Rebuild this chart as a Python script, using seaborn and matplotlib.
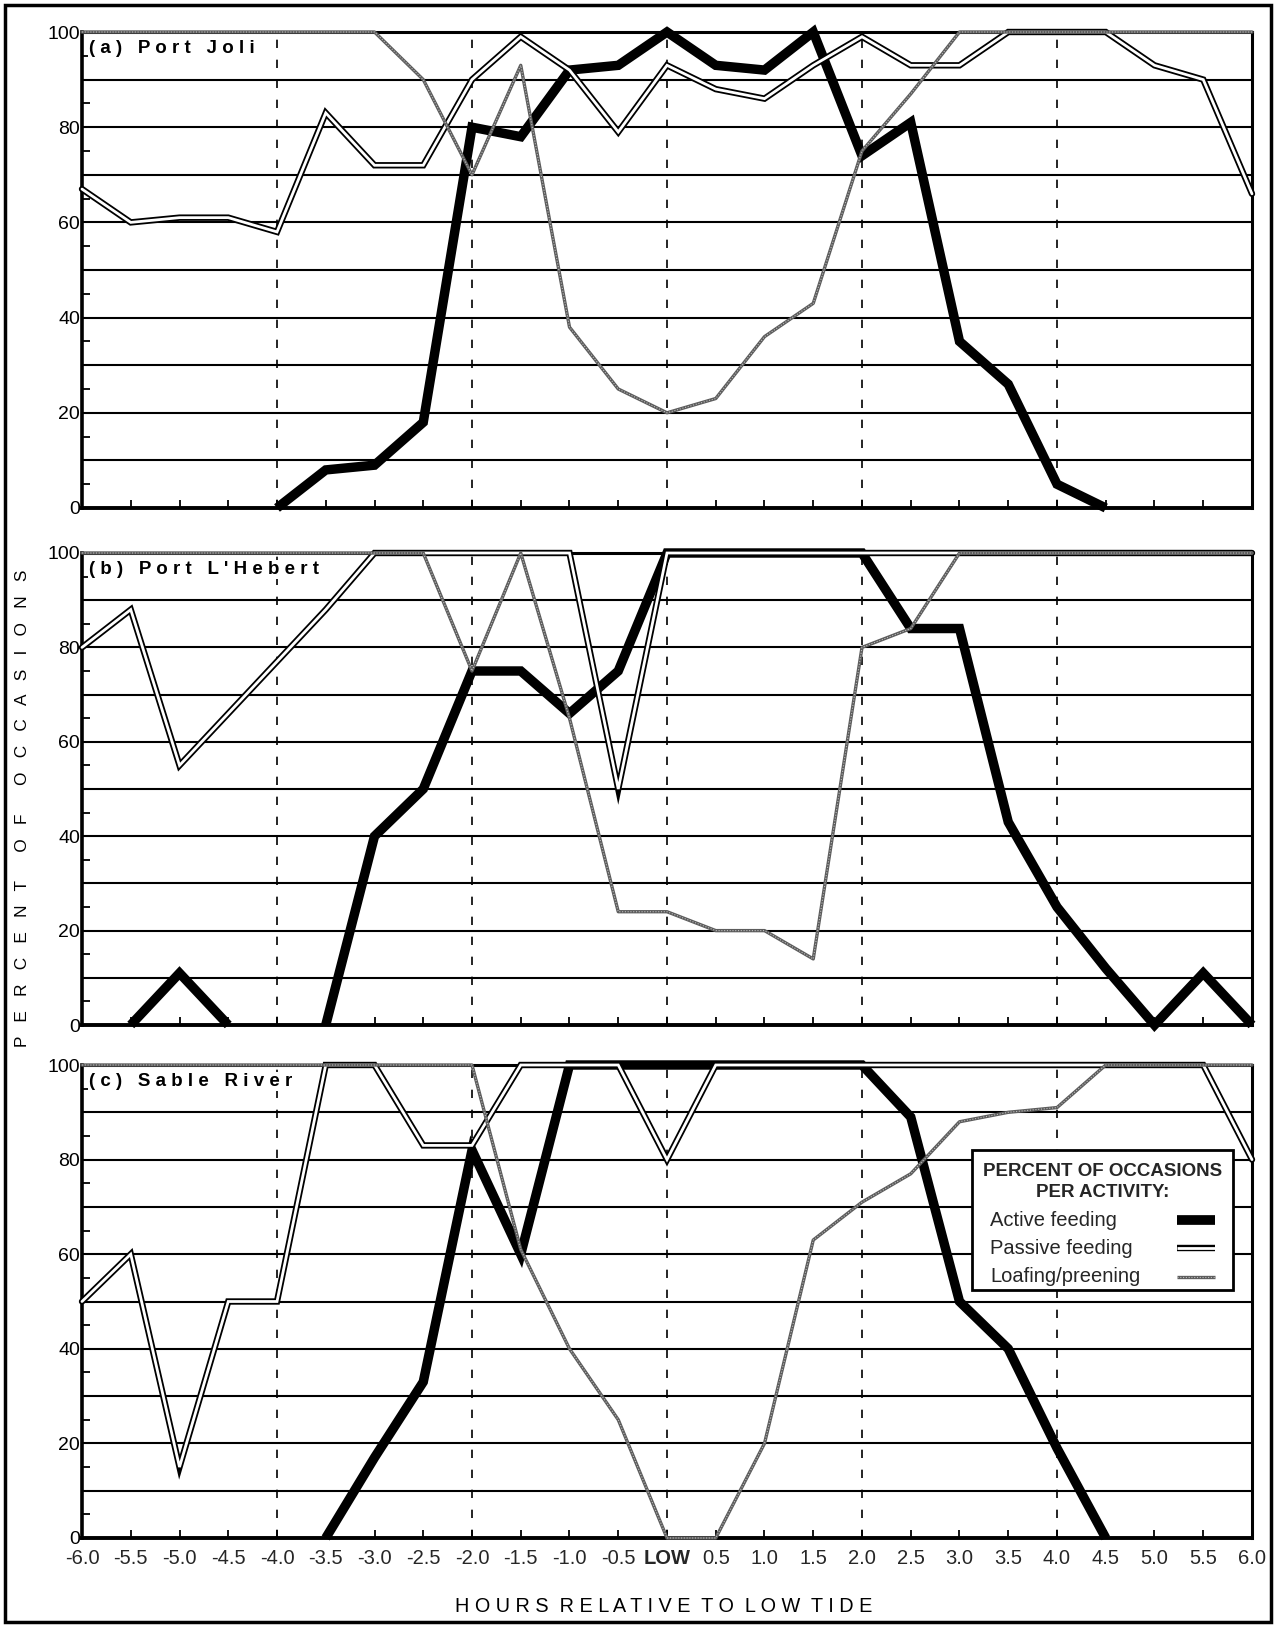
import numpy as np
import pandas as pd
import matplotlib
matplotlib.use("Agg")
import matplotlib.pyplot as plt
import seaborn as sns
from matplotlib.lines import Line2D
from matplotlib.patches import Rectangle

nan = np.nan
hours = [-6.0, -5.5, -5.0, -4.5, -4.0, -3.5, -3.0, -2.5, -2.0, -1.5, -1.0, -0.5, 0.0,
         0.5, 1.0, 1.5, 2.0, 2.5, 3.0, 3.5, 4.0, 4.5, 5.0, 5.5, 6.0]
tick_labels = ['-6.0', '-5.5', '-5.0', '-4.5', '-4.0', '-3.5', '-3.0', '-2.5', '-2.0', '-1.5',
               '-1.0', '-0.5', 'LOW', '0.5', '1.0', '1.5', '2.0', '2.5', '3.0', '3.5', '4.0',
               '4.5', '5.0', '5.5', '6.0']

sites = ['(a) Port Joli', "(b) Port L'Hebert", '(c) Sable River']

a_active = [nan, nan, nan, nan, 0, 8, 9, 18, 80, 78, 92, 93, 100, 93, 92, 100, 74, 81, 35, 26, 5, 0, nan, nan, nan]
a_passive = [67, 60, 61, 61, 58, 83, 72, 72, 90, 99, 92, 79, 93, 88, 86, 93, 99, 93, 93, 100, 100, 100, 93, 90, 66]
a_loafing = [100, 100, 100, 100, 100, 100, 100, 90, 70, 93, 38, 25, 20, 23, 36, 43, 75, 87, 100, 100, 100, 100, 100, 100, 100]

b_active = [nan, 0, 11, 0, nan, 0, 40, 50, 75, 75, 66, 75, 100, 100, 100, 100, 100, 84, 84, 43, 25, 12, 0, 11, 0]
b_passive = [80, 88, 55, 66, 77, 88, 100, 100, 100, 100, 100, 50, 100, 100, 100, 100, 100, 100, 100, 100, 100, 100, 100, 100, 100]
b_loafing = [100, 100, 100, 100, 100, 100, 100, 100, 75, 100, 65, 24, 24, 20, 20, 14, 80, 84, 100, 100, 100, 100, 100, 100, 100]

c_active = [nan, nan, nan, nan, nan, 0, 17, 33, 82, 60, 100, 100, 100, 100, 100, 100, 100, 89, 50, 40, 19, 0, nan, nan, nan]
c_passive = [50, 60, 15, 50, 50, 100, 100, 83, 83, 100, 100, 100, 80, 100, 100, 100, 100, 100, 100, 100, 100, 100, 100, 100, 80]
c_loafing = [100, 100, 100, 100, 100, 100, 100, 100, 100, 61, 40, 25, 0, 0, 20, 63, 71, 77, 88, 90, 91, 100, 100, 100, 100]

panels = [(a_active, a_passive, a_loafing),
          (b_active, b_passive, b_loafing),
          (c_active, c_passive, c_loafing)]

sns.set_theme(style="white")
plt.rcParams['font.family'] = ['Liberation Sans', 'DejaVu Sans']

W, H = 1276, 1627
fig = plt.figure(figsize=(W / 100, H / 100), dpi=100)
fig.patch.set_facecolor('white')

# axes boxes in pixels (left, top, right, bottom)
boxes = [(82, 32, 1252, 508), (82, 553, 1252, 1025), (82, 1065, 1252, 1538)]

LOAF_COLOR = '#5c5c5c'
LOAF_DOT = '#bdbdbd'


def segments(xs, ys):
    df = pd.DataFrame({'hour': xs, 'pct': ys})
    df['seg'] = df['pct'].isna().cumsum()
    return df.dropna()


axes = []
for i, ((l, t, r, b), (act, pas, loaf)) in enumerate(zip(boxes, panels)):
    ax = fig.add_axes([l / W, 1 - b / H, (r - l) / W, (b - t) / H])
    axes.append(ax)
    ax.set_facecolor('white')

    # active feeding: thick black
    d_act = segments(hours, act)
    sns.lineplot(data=d_act, x='hour', y='pct', units='seg', estimator=None, ax=ax,
                 color='black', lw=6.8, zorder=4, clip_on=False,
                 solid_joinstyle='miter', solid_capstyle='butt')
    # passive feeding: double line
    d_pas = segments(hours, pas)
    sns.lineplot(data=d_pas, x='hour', y='pct', units='seg', estimator=None, ax=ax,
                 color='black', lw=4.6, zorder=5, clip_on=False, solid_joinstyle='miter')
    sns.lineplot(data=d_pas, x='hour', y='pct', units='seg', estimator=None, ax=ax,
                 color='white', lw=2.0, zorder=6, clip_on=False, solid_joinstyle='miter')
    # loafing / preening: grey textured
    d_loaf = segments(hours, loaf)
    sns.lineplot(data=d_loaf, x='hour', y='pct', units='seg', estimator=None, ax=ax,
                 color=LOAF_COLOR, lw=2.4, zorder=7, clip_on=False)
    sns.lineplot(data=d_loaf, x='hour', y='pct', units='seg', estimator=None, ax=ax,
                 color=LOAF_DOT, lw=0.8, ls=(0, (1, 1.5)), zorder=8, clip_on=False)

    ax.set_xlim(-6, 6)
    ax.set_ylim(0, 100)
    ax.set_xlabel('')
    ax.set_ylabel('')

    # horizontal grid every 10
    ax.set_yticks(np.arange(0, 101, 10))
    ax.set_yticklabels([str(v) if v % 20 == 0 else '' for v in range(0, 101, 10)],
                       fontsize=14)
    ax.set_yticks(np.arange(5, 100, 10), minor=True)
    ax.yaxis.grid(True, which='major', color='black', lw=1.5, zorder=1)
    ax.set_axisbelow(True)
    ax.tick_params(axis='y', which='major', length=0, pad=1.5, colors='black')
    ax.tick_params(axis='y', which='minor', direction='in', length=6, width=1.3,
                   left=True, color='black')

    ax.set_xticks(hours)
    ax.tick_params(axis='x', which='major', direction='in', length=6, width=1.3,
                   bottom=True, color='black', pad=8)
    if i == 2:
        ax.set_xticklabels(tick_labels, fontsize=14.5)
        for tl in ax.get_xticklabels():
            if tl.get_text() == 'LOW':
                tl.set_fontweight('bold')
    else:
        ax.set_xticklabels([])

    for v in [-4, -2, 0, 2, 4]:
        ax.axvline(v, color='black', lw=1.2, ls=(0, (5, 7)), zorder=2)

    for side in ['left', 'right', 'top', 'bottom']:
        ax.spines[side].set_visible(True)
        ax.spines[side].set_color('black')
        ax.spines[side].set_linewidth(2.2)
    ax.spines['bottom'].set_linewidth(2.8)
    ax.spines['left'].set_linewidth(2.6)

    lab = sites[i]
    spaced = '   '.join(' '.join(w) for w in lab.split(' '))
    ax.text(0.006, 0.965, spaced, transform=ax.transAxes, ha='left', va='center',
            fontsize=13.5, fontweight='bold', color='black', zorder=10,
            bbox=dict(facecolor='white', edgecolor='none', pad=1.0))

# legend (manual box in panel c)
axc = axes[2]
axc.add_patch(Rectangle((0.761, 0.524), 0.223, 0.296, transform=axc.transAxes,
                        facecolor='white', edgecolor='black', lw=2.0, zorder=20))
axc.text(0.872, 0.774, 'PERCENT OF OCCASIONS', transform=axc.transAxes, ha='center',
         va='center', fontsize=13.5, fontweight='bold', zorder=21)
axc.text(0.872, 0.731, 'PER ACTIVITY:', transform=axc.transAxes, ha='center',
         va='center', fontsize=13.5, fontweight='bold', zorder=21)
rows = [('Active feeding', 0.672), ('Passive feeding', 0.613), ('Loafing/preening', 0.552)]
for txt, yy in rows:
    axc.text(0.776, yy, txt, transform=axc.transAxes, ha='left', va='center',
             fontsize=14.5, zorder=21)
hx = [0.936, 0.968]
y0 = rows[0][1]
axc.add_line(Line2D(hx, [y0, y0], transform=axc.transAxes, color='black', lw=7,
                    solid_capstyle='butt', zorder=22))
y1 = rows[1][1]
axc.add_line(Line2D(hx, [y1, y1], transform=axc.transAxes, color='black', lw=4.6,
                    solid_capstyle='butt', zorder=22))
axc.add_line(Line2D(hx, [y1, y1], transform=axc.transAxes, color='white', lw=2.0,
                    solid_capstyle='butt', zorder=23))
y2 = rows[2][1]
axc.add_line(Line2D(hx, [y2, y2], transform=axc.transAxes, color=LOAF_COLOR, lw=2.4,
                    solid_capstyle='butt', zorder=22))
axc.add_line(Line2D(hx, [y2, y2], transform=axc.transAxes, color=LOAF_DOT, lw=0.8,
                    ls=(0, (1, 1.5)), zorder=23))

# y label and x label
ylab = '      '.join('   '.join(w) for w in 'PERCENT OF OCCASIONS'.split(' '))
fig.text(0.018, 0.503, ylab, rotation=90, ha='center', va='center', fontsize=12.4,
         color='black')
xlab = '  '.join(' '.join(w) for w in 'HOURS RELATIVE TO LOW TIDE'.split(' '))
fig.text(0.52, 0.0125, xlab, ha='center', va='center', fontsize=14.3, color='black')

# outer frame
fig.add_artist(Rectangle((0.004, 0.003), 0.992, 0.994, transform=fig.transFigure,
                         fill=False, edgecolor='black', lw=2.5))

fig.savefig('out.png', dpi=100, facecolor='white')
